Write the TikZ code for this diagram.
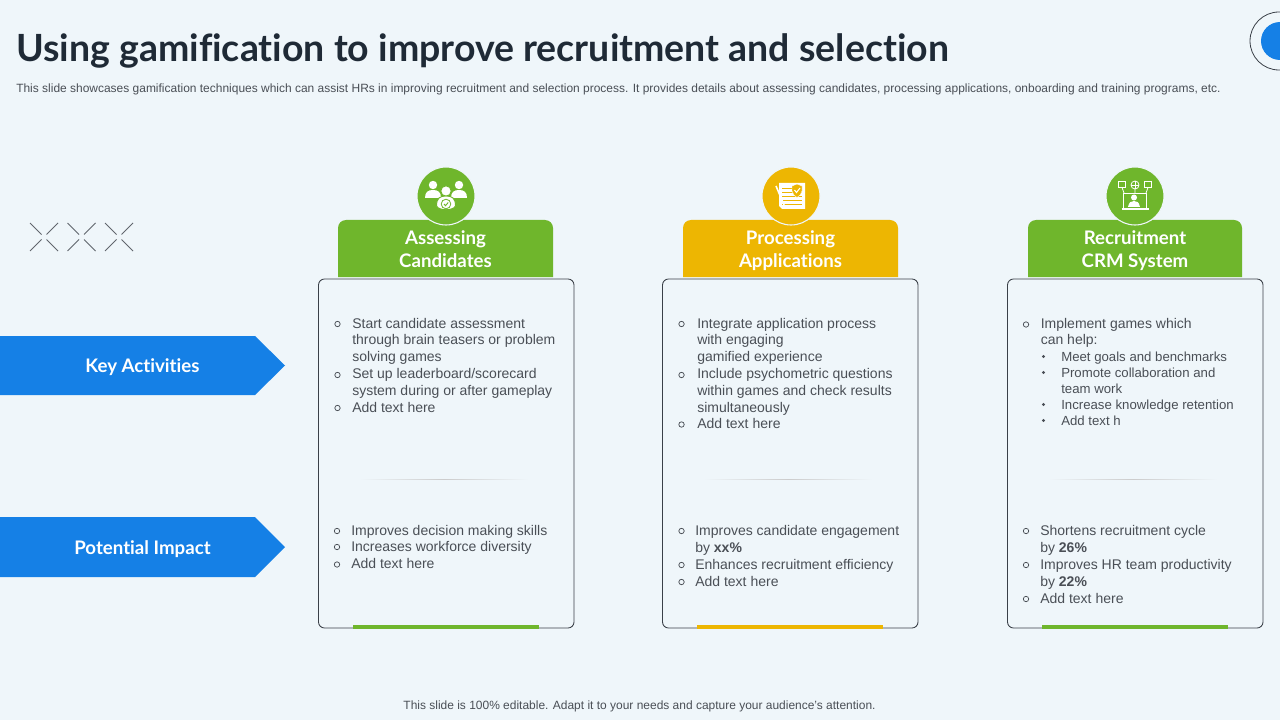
\documentclass[tikz,border=0pt]{standalone}
\usepackage{fontspec}
\setmainfont{Liberation Sans}
\newfontfamily\headfont[Ligatures=CommonOff]{Lato}
\definecolor{bgc}{HTML}{EFF6FA}
\definecolor{grn}{HTML}{6FB62C}
\definecolor{ylw}{HTML}{EDB602}
\definecolor{blu}{HTML}{1580E6}
\definecolor{txt}{HTML}{4A4F56}
\definecolor{ttl}{HTML}{1F2A36}
\definecolor{edgec}{HTML}{3A4048}
\newcounter{ln}
\tikzset{
  x=0.75pt,y=-0.75pt,
  line/.style={inner sep=0pt,anchor=base west,font=\fontsize{10.5}{13}\selectfont,text=txt},
  subline/.style={line,font=\fontsize{9.9}{12}\selectfont},
  card/.style={draw=edgec,line width=0.65pt,rounded corners=4.5pt,fill=bgc},
  disc/.style={circle,draw=bgc,line width=0.8pt,minimum size=43.5pt,inner sep=0pt},
  head/.style={inner sep=0pt,align=center,text=white,font=\headfont\bfseries\fontsize{14}{17.2}\selectfont},
  sidehead/.style={inner sep=0pt,text=white,font=\headfont\bfseries\fontsize{14}{18}\selectfont},
  xstroke/.style={draw=edgec!80,line width=0.55pt},
  icon/.style={draw=white,line width=0.6pt},
}
\newcommand{\txtl}[3]{\stepcounter{ln}\node[line] (l\theln) at (#1,#2) {#3};}
\newcommand{\subl}[3]{\stepcounter{ln}\node[subline] (l\theln) at (#1,#2) {#3};}
\newcommand{\bulo}[2]{\draw[txt,line width=0.55pt] (#1,#2) circle[radius=2.7];}
\newcommand{\buls}[2]{\fill[txt] (#1,#2) circle[radius=1.6];}
\newcommand{\crossx}[1]{\foreach \sx in {-1,1}\foreach \sy in {-1,1}
  \draw[xstroke] (#1+\sx*14,237+\sy*14) -- (#1+\sx*2.5,237+\sy*2.5);}
\newcommand{\cardset}[5]{%
  \fill[#3] (#2,277) [rounded corners=6pt] -- (#2,220) -- (#2+#5,220) [sharp corners] -- (#2+#5,277) -- cycle;
  \draw[card] (#1,279) rectangle (#1+255.5,628);
  \shade[left color=bgc,right color=bgc,middle color=black!20] (#1+41,479) rectangle (#1+210,479.8);
  \fill[#3] (#1+34.5,625) rectangle (#1+220,628.5);
  \node[disc,fill=#3] (disc#2) at (#4,196) {};
}
\begin{document}
\begin{tikzpicture}
\useasboundingbox (0,0) rectangle (1280,720);
\fill[bgc] (0,0) rectangle (1280,720);
% top-right decoration
\begin{scope}
\clip (0,0) rectangle (1280,720);
\draw[edgec,line width=0.6pt] (1279,41) circle[radius=29];
\fill[blu] (1280,41) circle[radius=19];
\end{scope}
% title
\node[inner sep=0pt,anchor=base west,text=ttl,font=\headfont\bfseries\fontsize{28.1}{30}\selectfont] (title) at (16,62) {Using gamification to improve recruitment and selection};
\node[inner sep=0pt,anchor=base west,text=txt,font=\fontsize{8.98}{11}\selectfont] (sub) at (16,93) {This slide showcases gamification techniques which can assist HRs in improving recruitment and selection process. It provides details about assessing candidates, processing applications, onboarding and training programs, etc.};
% crosses
\crossx{44}\crossx{81.5}\crossx{119}
% side arrows
\fill[blu] (0,336) -- (255,336) -- (285,365.5) -- (255,395) -- (0,395) -- cycle;
\node[sidehead] (ka) at (142.5,367.5) {\strut Key Activities};
\fill[blu] (0,517) -- (255,517) -- (285,547) -- (255,577) -- (0,577) -- cycle;
\node[sidehead] (pi) at (142.5,549.5) {\strut Potential Impact};
% cards
\cardset{318.5}{338}{grn}{446}{215}
\cardset{662.5}{683}{ylw}{791}{215}
\cardset{1007.5}{1028}{grn}{1135}{214}
\node[head] (h1) at (445.5,251) {\strut Assessing\\\strut Candidates};
\node[head] (h2) at (790.5,251) {\strut Processing\\\strut Applications};
\node[head] (h3) at (1135,251) {\strut Recruitment\\\strut CRM System};
% icon 1: people
\begin{scope}[shift={(446,196)}]
\foreach \dx in {-13,13}{
  \fill[white] (\dx,-11) circle[radius=4.2];
  \fill[white] (\dx-8,2) .. controls (\dx-8,-4) and (\dx-5,-6) .. (\dx,-6) .. controls (\dx+5,-6) and (\dx+8,-4) .. (\dx+8,2) -- cycle;
}
\fill[white,draw=grn,line width=0.7pt] (0,-5) circle[radius=5.2];
\fill[white,draw=grn,line width=0.7pt] (-9.5,10) .. controls (-9.5,2) and (-6,0) .. (0,0) .. controls (6,0) and (9.5,2) .. (9.5,10) .. controls (7,15) and (-7,15) .. (-9.5,10) -- cycle;
\draw[grn,line width=0.6pt] (0,8) circle[radius=4.8];
\draw[grn,line width=0.7pt] (-2,8) -- (-.5,9.7) -- (2.2,6.5);
\end{scope}
% icon 2: document
\begin{scope}[shift={(791,196)}]
\fill[white] (-12,-13) -- (14,-13) -- (14,13) -- (-9,13) -- (-12,10) -- cycle;
\foreach \yy in {-8,-4,0,4,8}\draw[ylw,line width=0.6pt] (-9,\yy) -- (11,\yy);
\fill[ylw,draw=white,line width=0.3pt] (1,-10) -- (6,-12) -- (11,-10) -- (11,-5) .. controls (11,-2) and (8,0) .. (6,1.5) .. controls (4,0) and (1,-2) .. (1,-5) -- cycle;
\draw[white,line width=0.8pt] (3.5,-6) -- (5.5,-3.5) -- (9,-8);
\draw[white,line width=1.2pt] (-15,-10) -- (-7,9);
\end{scope}
% icon 3: CRM
\begin{scope}[shift={(1135,196)}]
\draw[icon] (-16.5,-14.5) rectangle (-9.5,-8.5);
\draw[icon] (9.5,-14.5) rectangle (16.5,-8.5);
\draw[icon] (0,-11) circle[radius=4];
\draw[icon] (-4,-11) -- (4,-11) (0,-15) -- (0,-7);
\draw[icon] (-13,-8.5) -- (-11,-3) (13,-8.5) -- (11,-3) (0,-7) -- (0,-3);
\draw[icon] (-11.5,-3) rectangle (11.5,12.5);
\draw[icon,line width=1pt] (-13.5,13) -- (13.5,13);
\fill[white] (-1,1.5) circle[radius=3];
\fill[white] (-7,11) .. controls (-6,6) and (-4,5) .. (-1,5) .. controls (2,5) and (4,6) .. (5,11) -- cycle;
\end{scope}
% column 1
\bulo{337.5}{324}\txtl{352}{328}{Start candidate assessment}
\txtl{352}{344.5}{through brain teasers or problem}
\txtl{352}{361}{solving games}
\bulo{337.5}{375}\txtl{352}{378}{Set up leaderboard/scorecard}
\txtl{352}{395}{system during or after gameplay}
\bulo{337.5}{408}\txtl{352}{412}{Add text here}
\bulo{337}{531}\txtl{351}{535}{Improves decision making skills}
\bulo{337}{547}\txtl{351}{551}{Increases workforce diversity}
\bulo{337}{564.5}\txtl{351}{568}{Add text here}
% column 2
\bulo{681.5}{324}\txtl{697}{328}{Integrate application process}
\txtl{697}{344.5}{with engaging}
\txtl{697}{361}{gamified experience}
\bulo{681.5}{375}\txtl{697}{378}{Include psychometric questions}
\txtl{697}{395}{within games and check results}
\txtl{697}{412}{simultaneously}
\bulo{681.5}{424.5}\txtl{697}{428}{Add text here}
\bulo{681.5}{531}\txtl{695}{535}{Improves candidate engagement}
\txtl{695}{552}{by \textbf{xx\%}}
\bulo{681.5}{565}\txtl{695}{569}{Enhances recruitment efficiency}
\bulo{681.5}{582}\txtl{695}{586}{Add text here}
% column 3
\bulo{1026}{324.5}\txtl{1040.5}{328}{Implement games which}
\txtl{1040.5}{344.5}{can help:}
\buls{1043.5}{356.5}\subl{1061}{361}{Meet goals and benchmarks}
\buls{1043.5}{372.5}\subl{1061}{377}{Promote collaboration and}
\subl{1061}{393}{team work}
\buls{1043.5}{404.5}\subl{1061}{409}{Increase knowledge retention}
\buls{1043.5}{420.5}\subl{1061}{425}{Add text h}
\bulo{1026}{531}\txtl{1040}{535}{Shortens recruitment cycle}
\txtl{1040}{552}{by \textbf{26\%}}
\bulo{1026}{565}\txtl{1040}{569}{Improves HR team productivity}
\txtl{1040}{586}{by \textbf{22\%}}
\bulo{1026}{599}\txtl{1040}{603}{Add text here}
% footer
\node[inner sep=0pt,anchor=base,text=txt,font=\fontsize{8.98}{11}\selectfont] (foot) at (639.5,709.5) {This slide is 100\% editable. Adapt it to your needs and capture your audience’s attention.};
\end{tikzpicture}
\end{document}
